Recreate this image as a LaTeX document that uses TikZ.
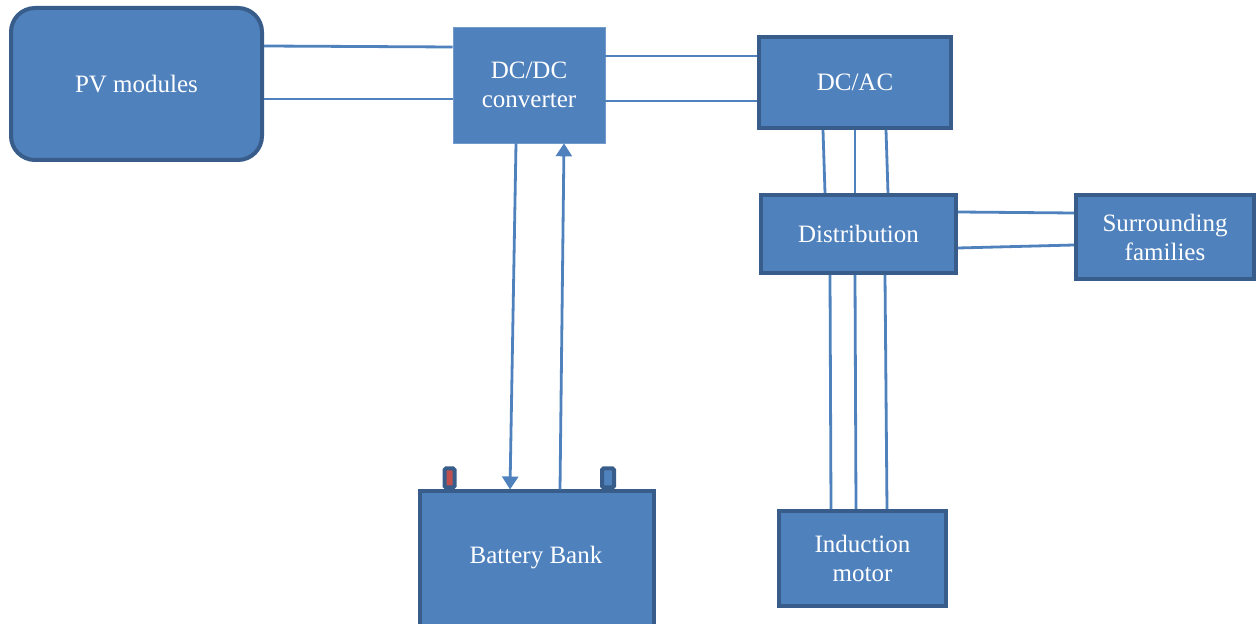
\documentclass[tikz,border=0pt]{standalone}
\usepackage{fontspec}
\setmainfont{Liberation Serif}
\usetikzlibrary{arrows.meta,calc}
\definecolor{boxfill}{HTML}{4F81BD}
\definecolor{boxedge}{HTML}{385D8A}
\definecolor{wirec}{HTML}{4F81BD}
\definecolor{termred}{HTML}{C0504D}
\tikzset{
  blk/.style={draw=boxedge, fill=boxfill, line width=4pt, text=white, align=center,
    font=\fontsize{25}{29}\selectfont, inner sep=0pt},
  plainblk/.style={draw=boxfill!80!white, fill=boxfill, line width=0.6pt, text=white, align=center,
    font=\fontsize{25}{29}\selectfont, inner sep=0pt},
  wire/.style={draw=wirec, line width=2.8pt},
  arr/.style={wire, -{Triangle[width=16pt,length=13pt]}},
  term/.style={draw=boxedge, line width=4pt, minimum width=10pt, minimum height=19pt, inner sep=0pt, rounded corners=1.5pt}
}
\begin{document}
\begin{tikzpicture}[x=1pt,y=1pt]
\useasboundingbox (0,0) rectangle (1259,624);
% blocks
\node[blk, rounded corners=24pt, minimum width=251pt, minimum height=152pt] (pv) at (136.5,540) {PV modules};
\node[plainblk, minimum width=152pt, minimum height=116pt] (dcdc) at (529,539) {DC/DC\\converter};
\node[blk, minimum width=192pt, minimum height=91pt] (dcac) at (855,541.5) {DC/AC};
\node[blk, minimum width=195pt, minimum height=78pt] (dist) at (858.5,390) {Distribution};
\node[blk, minimum width=178pt, minimum height=84pt] (fam) at (1165,387) {Surrounding\\families};
\node[blk, minimum width=167pt, minimum height=95pt] (mot) at (862.5,65.5) {Induction\\motor};
% battery
\node[term, fill=termred, anchor=south] (tl) at (449.5,134.5) {};
\node[term, fill=boxfill, anchor=south, minimum width=12pt] (tr) at (608,134.5) {};
\node[blk, minimum width=234pt, minimum height=150pt, anchor=north] (bat) at (537,134.5) {};
\node[text=white, font=\fontsize{25}{29}\selectfont] (battxt) at (536,66) {Battery Bank};
% PV -> DC/DC
\draw[wire] (pv.east |- 0,578) -- (dcdc.west |- 0,577);
\draw[wire] (pv.east |- 0,525) -- (dcdc.west |- 0,525);
% DC/DC -> DC/AC
\draw[wire] (dcdc.east |- 0,568) -- (dcac.west |- 0,568);
\draw[wire] (dcdc.east |- 0,523) -- (dcac.west |- 0,523);
% DC/DC <-> battery
\draw[arr] (dcdc.south -| 516,0) -- (bat.north -| 510,0);
\draw[arr] (bat.north -| 560,0) -- (dcdc.south -| 564,0);
% DC/AC -> Distribution
\draw[wire] (dcac.south -| 823,0) -- (dist.north -| 825,0);
\draw[wire] (dcac.south -| 855,0) -- (dist.north -| 855,0);
\draw[wire] (dcac.south -| 886,0) -- (dist.north -| 888,0);
% Distribution -> families
\draw[wire] (dist.east |- 0,412) -- (fam.west |- 0,411);
\draw[wire] (dist.east |- 0,376) -- (fam.west |- 0,379);
% Distribution -> motor
\draw[wire] (dist.south -| 830,0) -- (mot.north -| 831,0);
\draw[wire] (dist.south -| 855,0) -- (mot.north -| 856,0);
\draw[wire] (dist.south -| 885,0) -- (mot.north -| 887,0);
\end{tikzpicture}
\end{document}
